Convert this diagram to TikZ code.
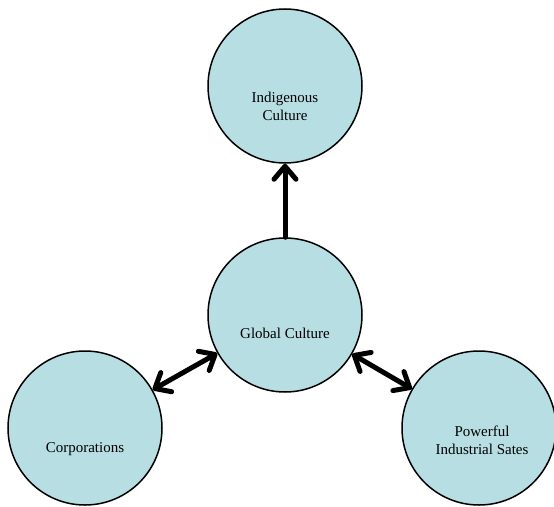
\documentclass[tikz,border=0pt]{standalone}
\usepackage{fontspec}
\setmainfont{Liberation Serif}
\usetikzlibrary{arrows.meta,positioning}

\definecolor{bubblefill}{RGB}{183,222,227}

\tikzset{
  bubble/.style={circle,draw=black,line width=1.5pt,fill=bubblefill,
    minimum size=2*\R pt,inner sep=0pt},
  lbl/.style={align=center,font=\fontsize{15}{18}\selectfont,inner sep=0pt},
  link/.style={line width=5pt,line cap=round,
    -{Straight Barb[round,length=13pt,width=22pt]}},
  duolink/.style={line width=5pt,line cap=round,
    {Straight Barb[round,length=13pt,width=22pt]}-{Straight Barb[round,length=13pt,width=22pt]}}
}

\begin{document}
\begin{tikzpicture}[x=1pt,y=-1pt]

% Parameters
\def\R{77}

% Frame of the picture
\useasboundingbox (0,0) rectangle (554,506);

% Circles
\node[bubble] (indig) at (285,86) {};
\node[bubble] (glob) at (285,315) {};
\node[bubble] (corp) at (85,428) {};
\node[bubble] (pow) at (479,428) {};

% Texts, set a little below the centres
\node[lbl] (indigtxt) at ([yshift=-20pt]indig.center) {Indigenous\\Culture};
\node[lbl] (globtxt) at ([yshift=-18pt]glob.center) {Global Culture};
\node[lbl] (corptxt) at ([yshift=-21pt]corp.center) {Corporations};
\node[lbl] (powtxt) at ([xshift=3pt,yshift=-12pt]pow.center) {Powerful\\Industrial Sates};

% Arrows
\draw[link] (glob) -- (indig);
\draw[duolink] (glob) -- (corp);
\draw[duolink] (glob) -- (pow);

\end{tikzpicture}
\end{document}
